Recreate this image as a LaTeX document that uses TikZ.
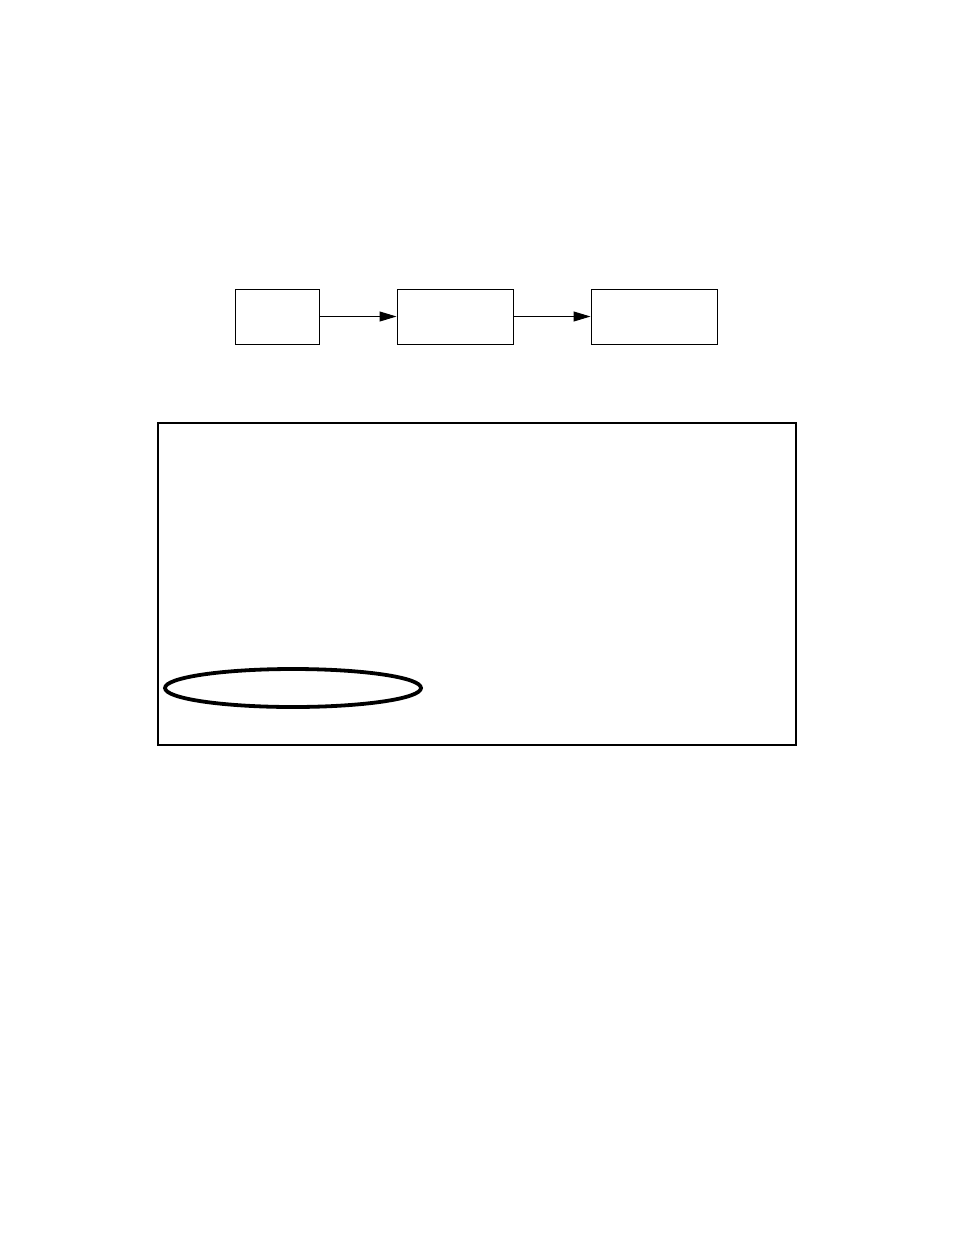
\documentclass[tikz,border=0pt]{standalone}
\usepackage{amsmath}
\usepackage{amssymb}
\usepackage{tikz}
\usetikzlibrary{shapes.geometric,arrows.meta}

\begin{document}
\begin{tikzpicture}[x=1pt,y=-1pt]
\useasboundingbox (0,0) rectangle (954,1235);

\node[draw, line width=1pt, inner sep=0pt, minimum width=84pt, minimum height=55pt] (A) at (277,316.5) {};
\node[draw, line width=1pt, inner sep=0pt, minimum width=116pt, minimum height=55pt] (B) at (455,316.5) {};
\node[draw, line width=1pt, inner sep=0pt, minimum width=126pt, minimum height=55pt] (C) at (654,316.5) {};

\node[draw, line width=1.8pt, inner sep=0pt, minimum width=638pt, minimum height=322pt] (frame) at (477,584) {};
\node[draw, ellipse, line width=3.8pt, inner sep=0pt, minimum width=256pt, minimum height=38pt] (E) at (293,688) {};

\draw [-{Triangle[length=17pt,width=10pt]}, line width=1pt] (A) -- (B);
\draw [-{Triangle[length=17pt,width=10pt]}, line width=1pt] (B) -- (C);
  \end{tikzpicture}
\end{document}
